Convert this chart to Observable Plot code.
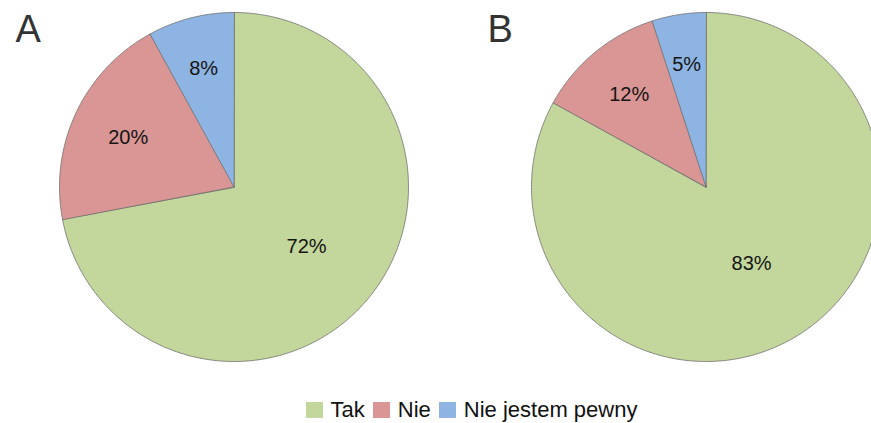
<!DOCTYPE html>
<html>
<head>
<meta charset="utf-8">
<script src="https://cdn.jsdelivr.net/npm/d3@7"></script>
<script src="https://cdn.jsdelivr.net/npm/@observablehq/plot@0.6"></script>
<style>
  html, body { margin: 0; padding: 0; background: #fff; overflow: hidden; width: 871px; height: 423px; }
  #chart { position: relative; width: 871px; height: 423px; overflow: hidden; }
  #legend { position: absolute; left: 0; top: 399px; width: 871px; box-sizing: border-box; padding-left: 72px; }
  #legend .lg-swatches { display: flex !important; justify-content: center !important; align-items: center !important; font-family: "Liberation Sans", Arial, sans-serif !important; font-size: 22px !important; line-height: 22px !important; color: #111 !important; margin: 0 !important; min-height: 0 !important; }
  #legend .lg-swatch { display: inline-flex !important; align-items: center !important; margin-right: 8px !important; }
  #legend .lg-swatch:last-child { margin-right: 0 !important; }
  #legend .lg-swatch > svg { margin-right: 8px !important; }
</style>
</head>
<body>
<div id="chart"><div id="legend"></div></div>
<script>
const panels = ["A", "B"];
const categories = ["Tak", "Nie", "Nie jestem pewny"];
const valuesA = [72, 20, 8];
const valuesB = [83, 12, 5];
const colors = ["#c3d69b", "#d99694", "#8db4e2"];

const seriesByPanel = { A: valuesA, B: valuesB };

// Build slice polygons (clockwise from 12 o'clock) and label anchors
const slicePoints = [];
const labels = [];
for (const panel of panels) {
  const vals = seriesByPanel[panel];
  const total = d3.sum(vals);
  let cum = 0;
  vals.forEach((v, i) => {
    const a0 = (cum / total) * 2 * Math.PI;
    const a1 = ((cum + v) / total) * 2 * Math.PI;
    cum += v;
    const cat = categories[i];
    slicePoints.push({ panel, category: cat, x: 0, y: 0 });
    const n = Math.max(2, Math.ceil((a1 - a0) / (Math.PI / 360)));
    for (let k = 0; k <= n; k++) {
      const t = a0 + (a1 - a0) * k / n;
      slicePoints.push({ panel, category: cat, x: Math.sin(t), y: Math.cos(t) });
    }
    const mid = (a0 + a1) / 2;
    const f = 0.72 - 0.25 * v / total;
    labels.push({ panel, text: v + "%", x: f * Math.sin(mid), y: f * Math.cos(mid) });
  });
}

const font = "'Liberation Sans', Arial, sans-serif";

const plot = Plot.plot({
  width: 880,
  height: 385,
  marginLeft: 58.5,
  marginRight: 0,
  marginTop: 12,
  marginBottom: 24,
  style: { fontFamily: font, background: "transparent", overflow: "visible", maxWidth: "none" },
  fx: { domain: panels, axis: null, paddingInner: 0.2606, paddingOuter: 0 },
  x: { domain: [-1, 1], axis: null },
  y: { domain: [-1, 1], axis: null },
  color: { domain: categories, range: colors },
  marks: [
    Plot.line(slicePoints, {
      fx: "panel", x: "x", y: "y", z: "category",
      fill: "category", stroke: "#6e6e6e", strokeWidth: 0.8,
      curve: "linear-closed"
    }),
    Plot.text(labels, {
      fx: "panel", x: "x", y: "y", text: "text",
      fontSize: 20, fill: "#151515"
    }),
    Plot.text(panels, {
      fx: d => d, text: d => d,
      frameAnchor: "top-left", textAnchor: "start", lineAnchor: "top",
      dx: -44, dy: 3, fontSize: 38, fill: "#333"
    })
  ]
});

const chart = document.getElementById("chart");
chart.insertBefore(plot, chart.firstChild);
plot.style.position = "absolute";
plot.style.left = "0px";
plot.style.top = "0px";
plot.style.maxWidth = "none";
plot.style.width = "880px";
plot.style.height = "385px";

const legend = plot.legend("color", {
  className: "lg",
  swatchWidth: 17,
  swatchHeight: 16
});
document.getElementById("legend").appendChild(legend);
</script>
</body>
</html>
